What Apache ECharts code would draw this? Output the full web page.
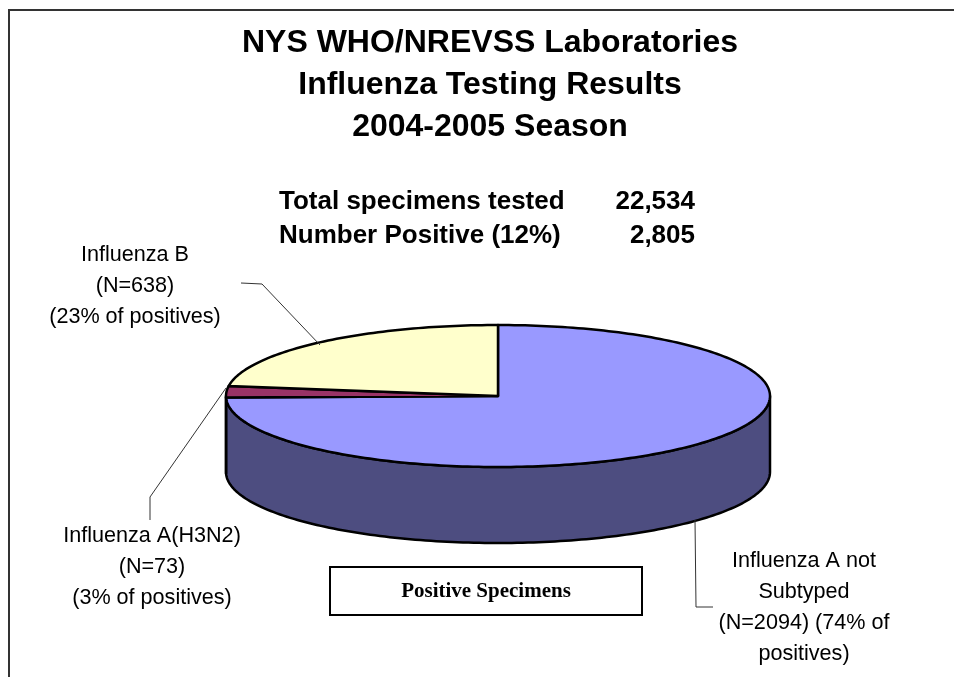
<!DOCTYPE html>
<html><head><meta charset="utf-8">
<style>html,body{margin:0;padding:0;background:#fff}#c{width:954px;height:677px}</style>
<script src="https://cdn.jsdelivr.net/npm/echarts@6/dist/echarts.min.js"></script>
</head><body><div id="c"></div>
<script>
var categories = ['Influenza A not Subtyped', 'Influenza A(H3N2)', 'Influenza B'];
var counts = [2094, 73, 638];
var sliceLabels = [
  ['Influenza A not', 'Subtyped', '(N=2094) (74% of', 'positives)'],
  ['Influenza A(H3N2)', '(N=73)', '(3% of positives)'],
  ['Influenza B', '(N=638)', '(23% of positives)']
];
var titleLines = ['NYS WHO/NREVSS Laboratories', 'Influenza Testing Results', '2004-2005 Season'];
var summaryNames = ['Total specimens tested', 'Number Positive (12%)'];
var summaryValues = ['22,534', '2,805'];
var boxLabel = 'Positive Specimens';

var topColors = ['#9999FF', '#993366', '#FFFFCC'];
var wallColors = ['#4D4D80', '#4D1A33', '#808066'];
var cx = 498, cy = 396, rx = 272, ry = 71, depth = 76;
var labelCenters = [[804, 608], [152, 567], [135, 286]];
var leaders = [
  [[695, 520], [696, 607], [713, 607]],
  [[226, 388], [150, 497], [150, 520]],
  [[320, 345], [262, 284], [241, 283]]
];
var total = counts.reduce(function (a, b) { return a + b; }, 0);

function pt(a, dy) { // a: clockwise radians from 12 o'clock
  return [cx + rx * Math.sin(a), cy - ry * Math.cos(a) + (dy || 0)];
}
function arc(a0, a1, dy) {
  var n = Math.max(2, Math.ceil(Math.abs(a1 - a0) / 0.02)), out = [];
  for (var i = 0; i <= n; i++) out.push(pt(a0 + (a1 - a0) * i / n, dy));
  return out;
}
var stroke = { stroke: '#000', lineWidth: 2.5, lineJoin: 'round' };

function renderItem(params, api) {
  var idx = params.dataIndex, before = 0;
  for (var i = 0; i < idx; i++) before += counts[i];
  var a0 = before / total * 2 * Math.PI;
  var a1 = (before + api.value(0)) / total * 2 * Math.PI;
  var kids = [];
  // front wall: the part of this slice between 3 o'clock and 9 o'clock
  var w0 = Math.max(a0, Math.PI / 2), w1 = Math.min(a1, 3 * Math.PI / 2);
  if (w1 > w0) {
    var wall = arc(w0, w1, 0).concat(arc(w1, w0, depth));
    kids.push({ type: 'polygon', shape: { points: wall },
      style: Object.assign({ fill: wallColors[idx] }, stroke) });
  }
  var top = [[cx, cy]].concat(arc(a0, a1, 0));
  kids.push({ type: 'polygon', shape: { points: top },
    style: Object.assign({ fill: topColors[idx] }, stroke) });
  kids.push({ type: 'polyline', shape: { points: leaders[idx] }, silent: true,
    style: { stroke: '#333', lineWidth: 1, fill: 'none' } });
  kids.push({ type: 'text', x: labelCenters[idx][0], y: labelCenters[idx][1],
    style: { text: sliceLabels[idx].join('\n'), align: 'center', verticalAlign: 'middle',
      font: '21.6px "Liberation Sans", Arial, sans-serif', lineHeight: 31, fill: '#000' } });
  return { type: 'group', children: kids };
}

var summaryFont = 'bold 26px "Liberation Sans", Arial, sans-serif';
var chart = echarts.init(document.getElementById('c'), null, { renderer: 'canvas' });
chart.setOption({
  animation: false,
  backgroundColor: '#fff',
  title: {
    text: titleLines.join('\n'), left: 485, top: 17, textAlign: 'center',
    textStyle: { fontFamily: '"Liberation Sans", Arial, sans-serif', fontWeight: 'bold',
      fontSize: 32, lineHeight: 42, color: '#000' }
  },
  series: [{
    type: 'custom', coordinateSystem: 'none', renderItem: renderItem,
    data: counts.map(function (v, i) { return { name: categories[i], value: [v] }; })
  }],
  graphic: [
    { type: 'polyline', silent: true, shape: { points: [[9, 677], [9, 10], [954, 10]] },
      style: { stroke: '#333', lineWidth: 2, fill: 'none' } },
    { type: 'text', x: 279, y: 202, style: { text: summaryNames[0], font: summaryFont, fill: '#000', verticalAlign: 'middle' } },
    { type: 'text', x: 279, y: 236, style: { text: summaryNames[1], font: summaryFont, fill: '#000', verticalAlign: 'middle' } },
    { type: 'text', x: 695, y: 202, style: { text: summaryValues[0], font: summaryFont, fill: '#000', align: 'right', verticalAlign: 'middle' } },
    { type: 'text', x: 695, y: 236, style: { text: summaryValues[1], font: summaryFont, fill: '#000', align: 'right', verticalAlign: 'middle' } },
    { type: 'rect', shape: { x: 330, y: 567, width: 312, height: 48 },
      style: { fill: '#fff', stroke: '#000', lineWidth: 2 } },
    { type: 'text', x: 486, y: 592, style: { text: boxLabel, align: 'center', verticalAlign: 'middle',
      font: 'bold 21px "Liberation Serif", "Times New Roman", serif', fill: '#000' } }
  ]
});
</script></body></html>
